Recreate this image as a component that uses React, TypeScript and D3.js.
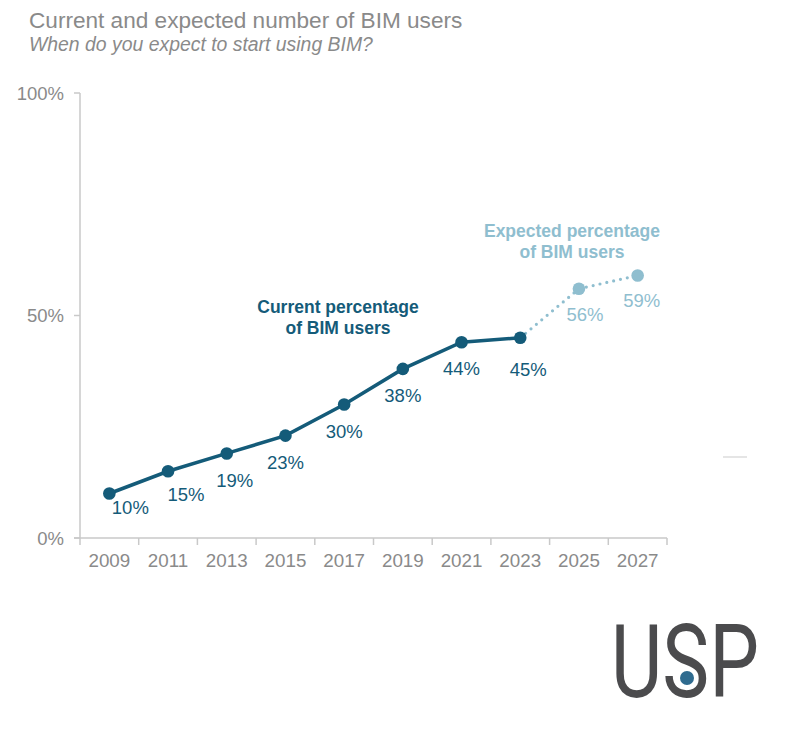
import React from "react";
import * as d3 from "d3";

const years = ["2009", "2011", "2013", "2015", "2017", "2019", "2021", "2023", "2025", "2027"];
const currentYears = ["2009", "2011", "2013", "2015", "2017", "2019", "2021", "2023"];
const currentValues = [10, 15, 19, 23, 30, 38, 44, 45];
const expectedYears = ["2023", "2025", "2027"];
const expectedValues = [45, 56, 59];
const yTicks = [0, 50, 100];

// label nudges (dx, dy from point to label baseline), layout only
const currentNudge: [number, number][] = [
  [21, 20], [18, 30], [8, 34], [0, 33], [0, 33], [0, 33], [0, 33], [8, 38],
];
const expectedNudge: [number, number][] = [
  [6, 32], [4, 32],
];

const DARK = "#145b79";
const LIGHT = "#8fbecf";
const GREY = "#8a8a8a";
const AXIS = "#c9c9c9";
const FONT = "'Liberation Sans', Arial, sans-serif";

export default function App() {
  const x = d3.scaleBand<string>().domain(years).range([80, 667]).padding(0);
  const y = d3.scaleLinear().domain([0, 100]).range([538, 93]);
  const cx = (yr: string) => (x(yr) as number) + x.bandwidth() / 2;

  const line = d3
    .line<number>()
    .x((_, i) => cx(currentYears[i]))
    .y((d) => y(d));
  const lineExp = d3
    .line<number>()
    .x((_, i) => cx(expectedYears[i]))
    .y((d) => y(d));

  const boundaries = years.map((yr) => x(yr) as number).concat([x.range()[1]]);

  return (
    <svg
      width={810}
      height={756}
      style={{ position: "absolute", left: 0, top: 0, background: "#fff" }}
      fontFamily={FONT}
    >
      <rect width={810} height={756} fill="#fff" />
      <text x={29} y={28} fontSize={22.6} fill={GREY}>
        Current and expected number of BIM users
      </text>
      <text x={29} y={51} fontSize={19.4} fill={GREY} fontStyle="italic">
        When do you expect to start using BIM?
      </text>

      {/* y axis */}
      <line x1={80} x2={80} y1={y(100)} y2={y(0)} stroke={AXIS} strokeWidth={1.5} />
      {yTicks.map((t) => (
        <g key={t}>
          <line x1={74} x2={80} y1={y(t)} y2={y(t)} stroke={AXIS} strokeWidth={1.5} />
          <text x={64} y={y(t) + 6.5} fontSize={18.5} fill={GREY} textAnchor="end">
            {t}%
          </text>
        </g>
      ))}

      {/* x axis */}
      <line x1={74} x2={x.range()[1]} y1={y(0)} y2={y(0)} stroke={AXIS} strokeWidth={1.5} />
      {boundaries.map((b, i) => (
        <line key={i} x1={b} x2={b} y1={y(0)} y2={y(0) + 7} stroke={AXIS} strokeWidth={1.5} />
      ))}
      {years.map((yr) => (
        <text key={yr} x={cx(yr)} y={567} fontSize={18.8} fill={GREY} textAnchor="middle">
          {yr}
        </text>
      ))}

      {/* expected dotted line */}
      <path
        d={lineExp(expectedValues) || ""}
        fill="none"
        stroke={LIGHT}
        strokeWidth={3.2}
        strokeLinecap="round"
        strokeDasharray="0 7"
      />
      {/* current line */}
      <path d={line(currentValues) || ""} fill="none" stroke={DARK} strokeWidth={3.5} />

      {currentValues.map((v, i) => (
        <g key={"c" + i}>
          <circle cx={cx(currentYears[i])} cy={y(v)} r={6.3} fill={DARK} />
          <text
            x={cx(currentYears[i]) + currentNudge[i][0]}
            y={y(v) + currentNudge[i][1]}
            fontSize={18.5}
            fill={DARK}
            textAnchor="middle"
          >
            {v}%
          </text>
        </g>
      ))}
      {expectedValues.slice(1).map((v, i) => (
        <g key={"e" + i}>
          <circle cx={cx(expectedYears[i + 1])} cy={y(v)} r={6.3} fill={LIGHT} />
          <text
            x={cx(expectedYears[i + 1]) + expectedNudge[i][0]}
            y={y(v) + expectedNudge[i][1]}
            fontSize={18.5}
            fill={LIGHT}
            textAnchor="middle"
          >
            {v}%
          </text>
        </g>
      ))}

      {/* annotations */}
      <text x={338} y={313} fontSize={17.5} fontWeight="bold" fill={DARK} textAnchor="middle">
        Current percentage
      </text>
      <text x={338} y={334} fontSize={17.5} fontWeight="bold" fill={DARK} textAnchor="middle">
        of BIM users
      </text>
      <text x={572} y={237} fontSize={17.5} fontWeight="bold" fill={LIGHT} textAnchor="middle">
        Expected percentage
      </text>
      <text x={572} y={258} fontSize={17.5} fontWeight="bold" fill={LIGHT} textAnchor="middle">
        of BIM users
      </text>

      {/* stray mark */}
      <line x1={723} x2={747} y1={457} y2={457} stroke="#dcdcdc" strokeWidth={1.5} />

      {/* logo */}
      <text
        x={611}
        y={697}
        fontSize={102}
        fontFamily="Roboto, 'Open Sans', sans-serif"
        fontWeight={400}
        fill="#4b4b4d"
        textLength={148}
        lengthAdjust="spacingAndGlyphs"
      >
        USP
      </text>
      <circle cx={687} cy={678} r={7} fill="#2f6b8f" />
    </svg>
  );
}
